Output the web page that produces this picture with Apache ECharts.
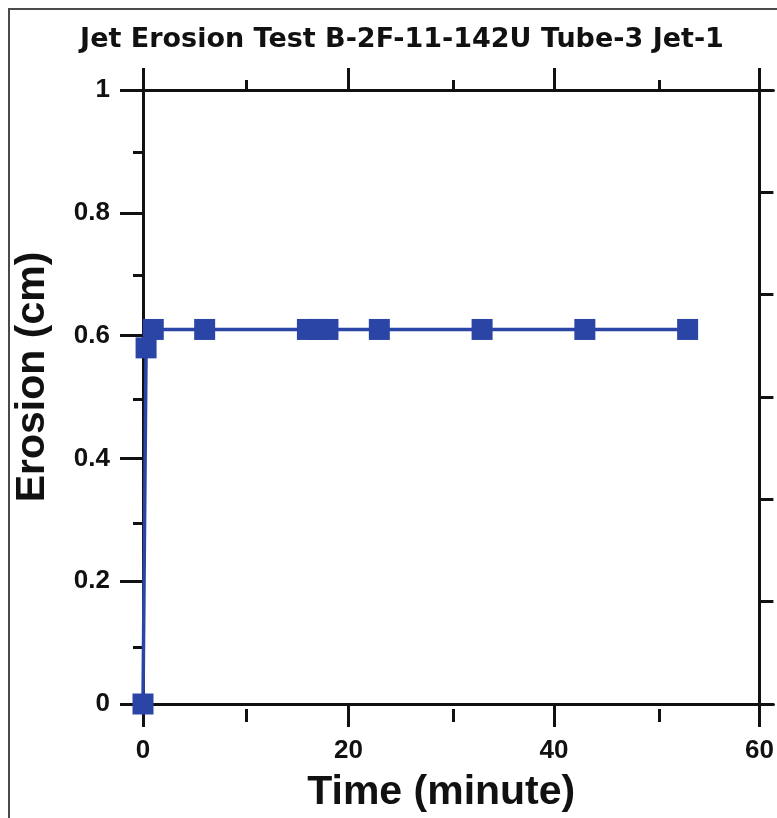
<!DOCTYPE html>
<html>
<head>
<meta charset="utf-8">
<title>Jet Erosion Test B-2F-11-142U Tube-3 Jet-1</title>
<script src="https://cdn.jsdelivr.net/npm/echarts@6/dist/echarts.min.js"></script>
<style>
  html, body { margin: 0; padding: 0; background: #fff; overflow: hidden; }
  #chart { width: 777px; height: 818px; }
  /* thin frame of the scanned figure */
  #frame { position: fixed; left: 8px; top: 8px; width: 900px; height: 900px; border-left: 2px solid #4a4a4a; border-top: 2px solid #4a4a4a; pointer-events: none; }
</style>
</head>
<body>
<div id="chart"></div>
<div id="frame"></div>
<script>
// data
const timeMin = [0, 0.3, 1, 6, 16, 17, 18, 23, 33, 43, 53]
const erosionCm = [0, 0.58, 0.61, 0.61, 0.61, 0.61, 0.61, 0.61, 0.61, 0.61, 0.61]

// axes
const xMin = 0
const xMax = 61.35
const yMin = 0
const yMax = 1
const xMajorTicks = [0, 20, 40, 60]
const xMinorTicks = [10, 30, 50]
const yMajorTicks = [0, 0.2, 0.4, 0.6, 0.8, 1]
const yMinorTicks = [0.1, 0.3, 0.5, 0.7, 0.9]
const rightTicks = [0.1667, 0.3333, 0.5, 0.6667, 0.8333]

const black = '#111'
const blue = '#2b45a6'
const lineW = 3

const chart = echarts.init(document.getElementById('chart'))

// shared axis style
function axisBase(extra) {
  return Object.assign({
    type: 'value',
    splitLine: { show: false },
    axisLine: { show: false, onZero: false, lineStyle: { color: black, width: lineW } },
    axisLabel: { show: false },
    axisTick: { show: false }
  }, extra)
}

function ticks(values, len) {
  return { show: true, customValues: values, length: len, lineStyle: { color: black, width: lineW } }
}

const axisLine = { show: true, onZero: false, lineStyle: { color: black, width: lineW } }
const gridBox = { left: 143, right: 0, top: 90, bottom: 109 }

const option = {
  backgroundColor: '#fff',
  animation: false,
  title: {
    text: 'Jet Erosion Test B-2F-11-142U Tube-3 Jet-1',
    left: 397,
    top: 21,
    textAlign: 'center',
    textStyle: { fontFamily: 'DejaVu Sans', fontWeight: 'bold', fontSize: 27, color: black }
  },
  // grid 0 carries the frame, major ticks and data; grid 1 (same box) only minor ticks
  grid: [Object.assign({}, gridBox), Object.assign({}, gridBox)],
  xAxis: [
    axisBase({
      gridIndex: 0, position: 'bottom', min: xMin, max: xMax,
      axisLine: axisLine,
      axisTick: ticks(xMajorTicks, 23),
      axisLabel: {
        show: true, customValues: xMajorTicks, margin: 34,
        fontFamily: 'Liberation Sans', fontWeight: 'bold', fontSize: 26, color: black
      },
      name: 'Time (minute)',
      nameLocation: 'middle',
      nameGap: 68,
      nameTextStyle: {
        fontFamily: 'Liberation Sans', fontWeight: 'bold', fontSize: 41, color: black,
        padding: [0, 34, 0, 0]
      }
    }),
    axisBase({
      gridIndex: 0, position: 'top', min: xMin, max: xMax,
      axisLine: axisLine,
      axisTick: ticks(xMajorTicks, 22)
    }),
    axisBase({ gridIndex: 1, position: 'bottom', min: xMin, max: xMax, axisTick: ticks(xMinorTicks, 13) }),
    axisBase({ gridIndex: 1, position: 'top', min: xMin, max: xMax, axisTick: ticks(xMinorTicks, 10) })
  ],
  yAxis: [
    axisBase({
      gridIndex: 0, position: 'left', min: yMin, max: yMax,
      axisLine: axisLine,
      axisTick: ticks(yMajorTicks, 23),
      axisLabel: {
        show: true, customValues: yMajorTicks, margin: 33,
        fontFamily: 'Liberation Sans', fontWeight: 'bold', fontSize: 26, color: black
      },
      name: 'Erosion (cm)',
      nameLocation: 'middle',
      nameGap: 90,
      nameTextStyle: {
        fontFamily: 'Liberation Sans', fontWeight: 'bold', fontSize: 41, color: black,
        padding: [0, 0, 0, 40]
      }
    }),
    axisBase({
      gridIndex: 0, position: 'right', offset: -14, min: yMin, max: yMax,
      axisLine: axisLine,
      axisTick: ticks(rightTicks, 14)
    }),
    axisBase({ gridIndex: 1, position: 'left', min: yMin, max: yMax, axisTick: ticks(yMinorTicks, 10) })
  ],
  series: [
    {
      type: 'line',
      xAxisIndex: 0,
      yAxisIndex: 0,
      data: timeMin.map((t, i) => [t, erosionCm[i]]),
      symbol: 'rect',
      symbolSize: 21,
      clip: false,
      itemStyle: { color: blue },
      lineStyle: { color: blue, width: 3.5 },
      z: 5
    },
    // empty series so grid 1 axes are laid out
    { type: 'line', xAxisIndex: 2, yAxisIndex: 2, data: [], silent: true }
  ]
}

chart.setOption(option)
</script>
</body>
</html>
